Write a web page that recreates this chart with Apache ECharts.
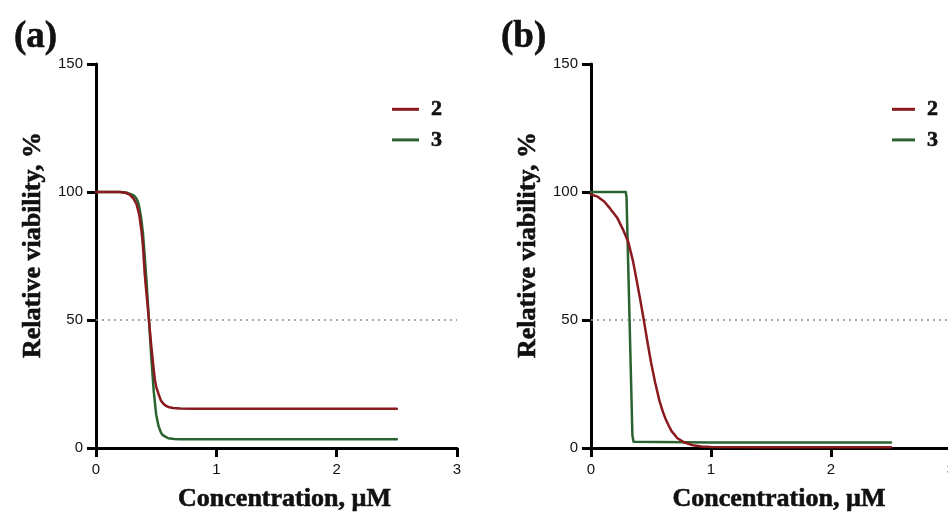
<!DOCTYPE html>
<html>
<head>
<meta charset="utf-8">
<script src="https://cdn.jsdelivr.net/npm/echarts@6/dist/echarts.min.js"></script>
<style>
  html, body { margin: 0; padding: 0; background: #fff; }
  #main { width: 948px; height: 513px; }
</style>
</head>
<body>
<div id="main"></div>
<script>
// values (concentration in uM, viability in %)
let aRedX = [0, 0.1, 0.2, 0.25, 0.28, 0.31, 0.335, 0.36, 0.38, 0.39, 0.405, 0.42, 0.44, 0.46, 0.48, 0.49, 0.5, 0.52, 0.54, 0.56, 0.58, 0.61, 0.64, 0.7, 0.8, 1.0, 1.5, 2.0, 2.5];
let aRedY = [100, 100, 100, 99.6, 99, 97.5, 95.5, 91, 84, 79, 68, 60, 50, 39.5, 30.5, 26.5, 24, 21, 18.5, 17.3, 16.5, 15.9, 15.6, 15.4, 15.3, 15.3, 15.3, 15.3, 15.3];
let aGreenX = [0, 0.2, 0.25, 0.3, 0.32, 0.335, 0.35, 0.36, 0.375, 0.39, 0.405, 0.42, 0.44, 0.46, 0.48, 0.5, 0.52, 0.54, 0.555, 0.57, 0.6, 0.65, 0.7, 0.8, 1.0, 2.0, 2.5];
let aGreenY = [100, 100, 99.8, 99, 98.4, 97.5, 96, 94, 90, 84, 75, 65, 50, 35, 22, 13, 8.5, 6, 5, 4.5, 3.8, 3.5, 3.4, 3.4, 3.4, 3.4, 3.4];

let bRedX = [0, 0.05, 0.11, 0.16, 0.22, 0.27, 0.31, 0.35, 0.38, 0.41, 0.44, 0.47, 0.5, 0.535, 0.57, 0.6, 0.62, 0.645, 0.67, 0.72, 0.78, 0.85, 0.92, 1.0, 1.5, 2.0, 2.5];
let bRedY = [99, 98.3, 96.3, 93.5, 89.8, 85, 80.6, 73, 65.6, 58, 50, 41.5, 33.5, 25.5, 18.5, 14, 11.5, 9, 6.7, 3.8, 2.1, 1.1, 0.6, 0.4, 0.3, 0.3, 0.3];
let bGreenX = [0, 0.29, 0.296, 0.345, 0.355, 0.37, 1.0, 2.0, 2.5];
let bGreenY = [100, 100, 98, 5, 2.4, 2.1, 2.1, 2.1, 2.1];

let seriesNames = ["2", "3"];
let xTicks = [0, 1, 2, 3];
let yTicks = [0, 50, 100, 150];
let halfLine = 50;

let red = "#8a1a1e";
let green = "#2b6330";
let serif = "'Liberation Serif', 'Times New Roman', serif";

function pairs(xs, ys) {
    return xs.map((x, i) => [x, ys[i]]);
}

let chartDom = document.getElementById("main");
let myChart = echarts.init(chartDom);
let option;

// heavy serif text, a thin stroke makes it look like the scanned figure
function heavy(size) {
    return {
        fontFamily: serif,
        fontWeight: "bold",
        fontSize: size,
        color: "#111",
        textBorderColor: "#111",
        textBorderWidth: 0.6,
    };
}

function makeXAxis(idx) {
    return {
        type: "value",
        gridIndex: idx,
        min: xTicks[0],
        max: xTicks[xTicks.length - 1],
        interval: 1,
        name: "Concentration, \u00b5M",
        nameLocation: "middle",
        nameGap: 38,
        nameTextStyle: Object.assign(heavy(26), { padding: [0, 0, 0, 16] }),
        axisLine: { lineStyle: { color: "#000", width: 3 } },
        axisTick: { length: 9, lineStyle: { color: "#000", width: 3 } },
        axisLabel: { fontFamily: "Liberation Sans", fontSize: 15, color: "#111", margin: 14 },
        splitLine: { show: false },
    };
}

function makeYAxis(idx) {
    return {
        type: "value",
        gridIndex: idx,
        min: yTicks[0],
        max: yTicks[yTicks.length - 1],
        interval: 50,
        name: "Relative viability, %",
        nameLocation: "middle",
        nameGap: 50,
        nameTextStyle: Object.assign(heavy(26), { padding: [0, 0, 0, 22] }),
        axisLine: { show: true, lineStyle: { color: "#000", width: 3 } },
        axisTick: { show: true, length: 9, lineStyle: { color: "#000", width: 3 } },
        axisLabel: { fontFamily: "Liberation Sans", fontSize: 15, color: "#111", margin: 13 },
        splitLine: { show: false },
    };
}

function makeLine(name, idx, data, color, withMark) {
    let s = {
        name: name,
        type: "line",
        xAxisIndex: idx,
        yAxisIndex: idx,
        data: data,
        showSymbol: false,
        lineStyle: { color: color, width: 2.5, join: "round", cap: "round" },
        itemStyle: { color: color },
        z: name === "2" ? 3 : 2,
    };
    if (withMark) {
        s.markLine = {
            silent: true,
            symbol: "none",
            label: { show: false },
            lineStyle: { color: "#8c8c8c", type: [2, 4], width: 1.5 },
            data: [{ yAxis: halfLine }],
        };
    }
    return s;
}

function makeLegend(left, width) {
    return {
        data: seriesNames,
        orient: "vertical",
        left: left,
        top: 93,
        itemGap: 8,
        itemWidth: width,
        itemHeight: 3,
        icon: "rect",
        textStyle: Object.assign(heavy(22), { padding: [0, 0, 0, 7] }),
    };
}

option = {
    backgroundColor: "#fff",
    animation: false,
    title: [
        { text: "(a)", left: 9, top: 14, textStyle: heavy(37) },
        { text: "(b)", left: 496, top: 14, textStyle: heavy(37) },
    ],
    legend: [makeLegend(387, 27), makeLegend(887, 23)],
    grid: [
        { left: 96, top: 64, width: 361, height: 384, outerBoundsMode: "none", containLabel: false },
        { left: 591, top: 64, width: 360, height: 384, outerBoundsMode: "none", containLabel: false },
    ],
    xAxis: [makeXAxis(0), makeXAxis(1)],
    yAxis: [makeYAxis(0), makeYAxis(1)],
    series: [
        makeLine(seriesNames[0], 0, pairs(aRedX, aRedY), red, true),
        makeLine(seriesNames[1], 0, pairs(aGreenX, aGreenY), green, false),
        makeLine(seriesNames[0], 1, pairs(bRedX, bRedY), red, true),
        makeLine(seriesNames[1], 1, pairs(bGreenX, bGreenY), green, false),
    ],
};

myChart.setOption(option);
</script>
</body>
</html>
